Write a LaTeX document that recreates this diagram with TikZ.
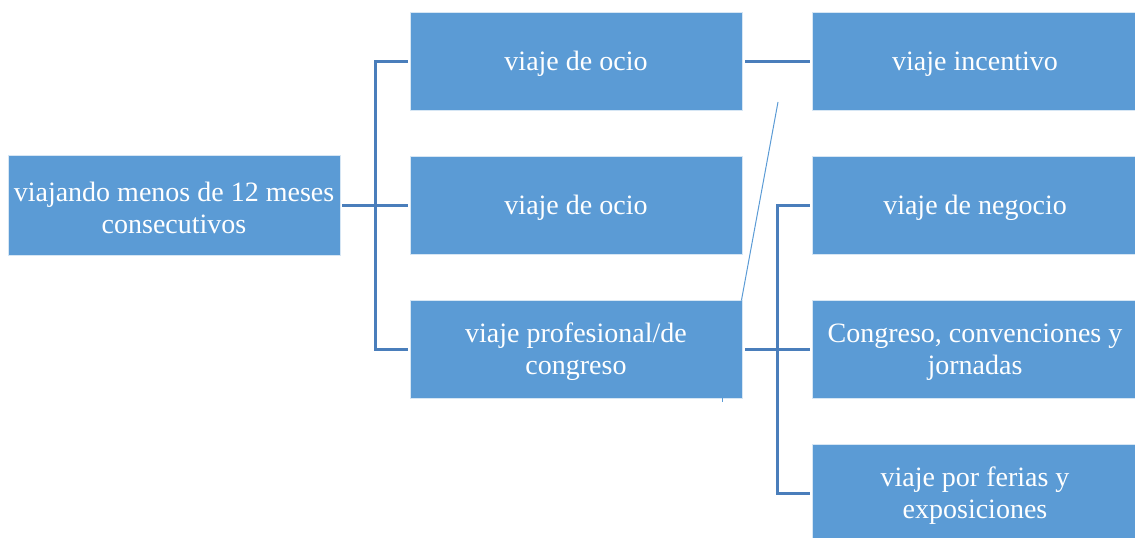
\documentclass[tikz,border=0pt]{standalone}
\usepackage{fontspec}
\setmainfont{Liberation Serif}
\definecolor{boxblue}{HTML}{5B9BD5}
\definecolor{connblue}{HTML}{4A7EBB}
\begin{document}
\begin{tikzpicture}[x=1pt,y=-1pt,
  box/.style={rectangle, fill=boxblue, draw=white!75!boxblue, line width=0.8pt,
    inner sep=0pt},
  lbl/.style={text=white, align=center, inner sep=0pt, yshift=-3pt,
    font=\fontsize{28}{32}\selectfont},
  txt/.style={label={[lbl]center:#1}},
  conn/.style={draw=connblue, line width=3pt},
  thin/.style={draw=boxblue, line width=1pt}]
\useasboundingbox (0,0) rectangle (1135,538);
% root
\node[box, minimum width=332pt, minimum height=100pt, txt={viajando menos de 12 meses\\consecutivos}] (r) at (174,205) {};
% column 2
\node[box, minimum width=332pt, minimum height=98pt, txt={viaje de ocio}] (a1) at (576,61) {};
\node[box, minimum width=332pt, minimum height=98pt, txt={viaje de ocio}] (a2) at (576,205) {};
\node[box, minimum width=332pt, minimum height=98pt, txt={viaje profesional/de\\congreso}] (a3) at (576,349) {};
% column 3
\node[box, minimum width=326pt, minimum height=98pt, txt={viaje incentivo}] (b1) at (975,61) {};
\node[box, minimum width=326pt, minimum height=98pt, txt={viaje de negocio}] (b2) at (975,205) {};
\node[box, minimum width=326pt, minimum height=98pt, txt={Congreso, convenciones y\\jornadas}] (b3) at (975,349) {};
\node[box, minimum width=326pt, minimum height=98pt, txt={viaje por ferias y\\exposiciones}] (b4) at (975,493) {};
% buses
\coordinate (bus1) at (375,0);
\coordinate (bus2) at (777,0);
\draw[conn] ([xshift=2pt]r.east) -- (r.east -| bus1);
\draw[conn] ([xshift=-2pt]a1.west) -- (a1.west -| bus1) -- (a3.west -| bus1) -- ([xshift=-2pt]a3.west);
\draw[conn] (a2.west -| bus1) -- ([xshift=-2pt]a2.west);
\draw[conn] ([xshift=3pt]a1.east) -- ([xshift=-2pt]b1.west);
\draw[conn] ([xshift=3pt]a3.east) -- ([xshift=-2pt]b3.west);
\draw[conn] ([xshift=-2pt]b2.west) -- (b2.west -| bus2) -- (b4.west -| bus2) -- ([xshift=-2pt]b4.west);
% thin diagonal
\coordinate (dtop) at (778,102);
\draw[thin] ([xshift=-1pt,yshift=-1pt]a3.north east) -- (dtop);
\coordinate (tick) at (722,402);
\draw[thin] (a3.south -| tick) -- (tick);
\end{tikzpicture}
\end{document}
